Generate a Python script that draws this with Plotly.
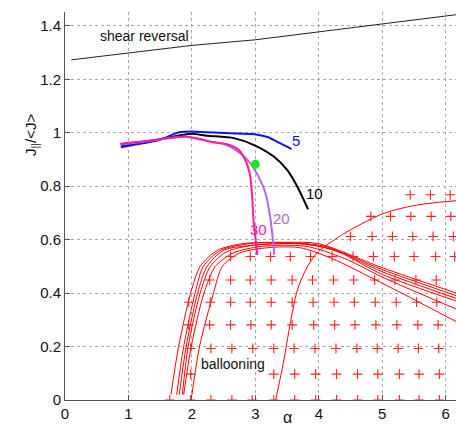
import plotly.graph_objects as go

# ---------------- data ----------------
shear_x = [0.10, 1.0, 2.0, 3.0, 4.0, 5.0, 6.17]
shear_y = [1.273, 1.298, 1.327, 1.348, 1.377, 1.408, 1.442]

blue_x = [0.88, 1.2, 1.5, 1.69, 1.82, 2.0, 2.24, 2.6, 3.03, 3.19, 3.39, 3.57]
blue_y = [0.946, 0.960, 0.974, 0.993, 1.003, 1.005, 1.002, 0.998, 0.993, 0.984, 0.961, 0.939]

black_x = [0.89, 1.2, 1.5, 1.87, 2.0, 2.24, 2.66, 2.97, 3.29, 3.50, 3.66, 3.83]
black_y = [0.951, 0.962, 0.976, 0.993, 0.996, 0.989, 0.980, 0.955, 0.911, 0.861, 0.799, 0.714]

purple_x = [0.87, 1.2, 1.5, 1.9, 2.13, 2.55, 2.76, 2.92, 3.05, 3.16, 3.24, 3.30]
purple_y = [0.955, 0.965, 0.975, 0.985, 0.975, 0.954, 0.924, 0.886, 0.836, 0.774, 0.674, 0.543]

pink_x = [0.87, 1.34, 1.61, 1.87, 2.13, 2.29, 2.55, 2.74, 2.84, 2.91, 2.95, 2.97, 3.00, 3.03]
pink_y = [0.959, 0.971, 0.980, 0.986, 0.977, 0.966, 0.957, 0.936, 0.899, 0.849, 0.762, 0.674, 0.612, 0.543]

label_text = ["5", "10", "20", "30"]
label_x = [3.64, 3.93, 3.41, 3.05]
label_y = [0.971, 0.771, 0.680, 0.637]

point_x = [3.0]
point_y = [0.882]

# ballooning boundary curves
b1_x = [1.67, 1.79, 1.98, 2.13, 2.40, 2.80, 3.50, 4.00, 5.00, 6.17]
b1_y = [0.02, 0.20, 0.40, 0.50, 0.560, 0.585, 0.590, 0.585, 0.495, 0.400]
b2_x = [1.76, 1.87, 2.05, 2.18, 2.45, 2.90, 3.60, 4.10, 5.00, 6.17]
b2_y = [0.02, 0.20, 0.40, 0.50, 0.560, 0.585, 0.588, 0.575, 0.488, 0.390]
b3_x = [1.80, 1.91, 2.09, 2.24, 2.50, 3.00, 3.70, 4.20, 5.00, 6.17]
b3_y = [0.02, 0.20, 0.40, 0.50, 0.560, 0.580, 0.585, 0.565, 0.480, 0.380]
b4_x = [1.85, 1.94, 2.13, 2.29, 2.55, 3.00, 3.80, 4.30, 5.00, 6.17]
b4_y = [0.02, 0.20, 0.40, 0.50, 0.555, 0.580, 0.583, 0.555, 0.470, 0.370]
b5_x = [1.87, 1.99, 2.19, 2.37, 2.65, 3.10, 3.80, 4.40, 5.00, 6.17]
b5_y = [0.02, 0.20, 0.40, 0.50, 0.550, 0.575, 0.575, 0.530, 0.460, 0.340]
b6_x = [2.00, 2.12, 2.34, 2.48, 2.75, 3.20, 3.70, 4.20, 5.00, 6.17]
b6_y = [0.02, 0.20, 0.40, 0.50, 0.550, 0.570, 0.570, 0.530, 0.437, 0.293]
b7_x = [3.32, 3.45, 3.53, 3.66, 3.80, 3.97, 4.25, 4.50, 5.03, 5.56, 6.17]
b7_y = [0.00, 0.15, 0.26, 0.41, 0.49, 0.550, 0.600, 0.637, 0.699, 0.730, 0.746]

# unstable points (+), one list per row
row_y = [0.0, 0.097, 0.193, 0.281, 0.366, 0.449, 0.537, 0.612, 0.687, 0.768]
row_alpha = [
    [1.65, 1.98, 2.30, 2.63, 2.95, 3.29, 3.62, 3.95, 4.28, 4.61, 4.93, 5.27, 5.58, 5.90],
    [1.98, 3.29, 3.62, 3.95, 4.28, 4.61, 4.93, 5.27, 5.58, 5.90],
    [1.98, 2.30, 2.63, 2.96, 3.29, 3.61, 3.94, 4.27, 4.60, 4.92, 5.25, 5.57, 5.89],
    [1.95, 2.28, 2.61, 2.93, 3.25, 3.58, 3.92, 4.25, 4.57, 4.90, 5.23, 5.56, 5.88],
    [1.95, 2.29, 2.61, 2.92, 3.25, 3.58, 3.91, 4.24, 4.56, 4.89, 5.22, 5.54, 5.86],
    [2.28, 2.61, 2.92, 3.25, 3.58, 3.90, 4.23, 4.55, 4.88, 5.20, 5.53, 5.85],
    [2.61, 2.92, 3.24, 3.55, 3.87, 4.21, 4.54, 4.86, 5.19, 5.50, 5.84, 6.14],
    [4.50, 4.84, 5.16, 5.48, 5.80, 6.12],
    [4.82, 5.13, 5.45, 5.77, 6.08],
    [5.44, 5.76, 6.07],
]

x_ticks = [0, 1, 2, 3, 4, 5, 6]
y_ticks = [0, 0.2, 0.4, 0.6, 0.8, 1.0, 1.2, 1.4]
y_tick_text = ["0", "0.2", "0.4", "0.6", "0.8", "1", "1.2", "1.4"]

# ---------------- figure ----------------
fig = go.Figure()

for bx, by in [(b1_x, b1_y), (b2_x, b2_y), (b3_x, b3_y), (b4_x, b4_y),
               (b5_x, b5_y), (b6_x, b6_y), (b7_x, b7_y)]:
    fig.add_trace(go.Scatter(x=bx, y=by, mode="lines",
                             line=dict(color="#ff0000", width=1, shape="spline", smoothing=0.8),
                             hoverinfo="skip"))

px_all, py_all = [], []
for yv, xs in zip(row_y, row_alpha):
    for xv in xs:
        px_all.append(xv)
        py_all.append(yv)
fig.add_trace(go.Scatter(x=px_all, y=py_all, mode="markers",
                         marker=dict(symbol="cross-thin", size=7,
                                     line=dict(color="#ff2020", width=1.1)),
                         hoverinfo="skip", cliponaxis=True))

fig.add_trace(go.Scatter(x=shear_x, y=shear_y, mode="lines",
                         line=dict(color="#222222", width=1)))

for cx, cy, col in [(black_x, black_y, "#000000"), (blue_x, blue_y, "#1010ff"),
                    (purple_x, purple_y, "#b066e8"), (pink_x, pink_y, "#ff1aa0")]:
    fig.add_trace(go.Scatter(x=cx, y=cy, mode="lines",
                             line=dict(color=col, width=2, shape="spline", smoothing=0.7)))

fig.add_trace(go.Scatter(x=point_x, y=point_y, mode="markers",
                         marker=dict(color="#1ee61e", size=9, symbol="circle")))

label_colors = ["#1010ff", "#000000", "#b066e8", "#ff1aa0"]
for t, lx, ly, c in zip(label_text, label_x, label_y, label_colors):
    fig.add_annotation(x=lx, y=ly, text=t, showarrow=False,
                       font=dict(family="Liberation Sans, Arial", size=15, color=c))

fig.add_annotation(x=1.245, y=1.363, text="shear reversal", showarrow=False,
                   font=dict(family="Liberation Sans, Arial", size=14, color="#111111"))
fig.add_annotation(x=2.64, y=0.133, text="ballooning", showarrow=False,
                   font=dict(family="Liberation Sans, Arial", size=14, color="#111111"))

# axis titles (placed as in the cropped original)
fig.add_annotation(xref="paper", yref="y", x=-0.115, y=0.99,
                   text="J<sub>||</sub>/<J>", textangle=-90, showarrow=False,
                   font=dict(family="Liberation Sans, Arial", size=15, color="#111111"))
fig.add_annotation(xref="x", yref="paper", x=3.5, y=-0.072,
                   text="α", showarrow=False,
                   font=dict(family="Liberation Sans, Arial", size=16, color="#111111"))

axis_common = dict(showline=True, linecolor="#555555", linewidth=1,
                   ticks="inside", ticklen=5, tickcolor="#555555",
                   showgrid=True, gridcolor="#a8a8a8", griddash="dot", gridwidth=1,
                   zeroline=False, mirror=False,
                   tickfont=dict(family="Liberation Sans, Arial", size=15, color="#111111"))

fig.update_xaxes(range=[0, 6.162], tickvals=x_ticks, **axis_common)
fig.update_yaxes(range=[0, 1.452], tickvals=y_ticks, ticktext=y_tick_text, **axis_common)

fig.update_layout(width=456, height=436,
                  margin=dict(l=65, r=0, t=12, b=36),
                  paper_bgcolor="white", plot_bgcolor="white",
                  showlegend=False)

fig.write_html("out.html",
               config={"displayModeBar": False},
               post_script="document.body.style.margin='0';document.body.style.overflow='hidden';")
